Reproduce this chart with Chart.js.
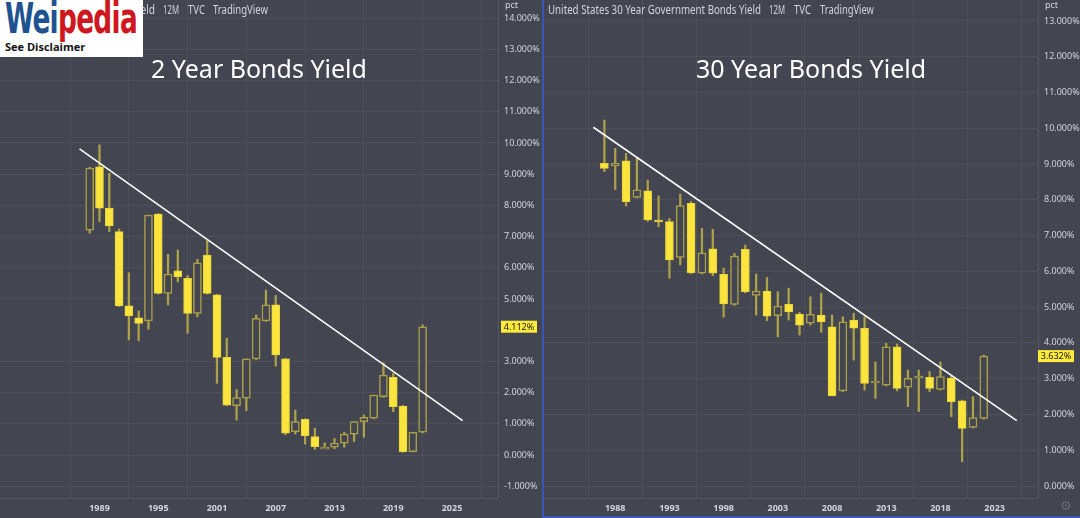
<!DOCTYPE html>
<html><head><meta charset="utf-8">
<script src="https://cdn.jsdelivr.net/npm/chart.js@4.4.1/dist/chart.umd.min.js"></script>
<style>
html,body{margin:0;padding:0;background:#434651;width:1080px;height:518px;overflow:hidden;}
#wrap{position:relative;width:1080px;height:518px;background:#434651;}
canvas{position:absolute;top:0;}
#c1{left:0;}
#c2{left:544px;}
.hdr{position:absolute;top:1px;font-family:'Noto Sans',sans-serif;font-size:12.5px;color:#d1d4dc;white-space:nowrap;transform-origin:0 0;}
.ttl{position:absolute;top:51px;font-family:'Noto Sans',sans-serif;font-size:25px;color:#ffffff;white-space:nowrap;transform:translateX(-50%);}
#bl{position:absolute;left:542px;top:0;width:2px;height:518px;background:#3657b8;}
#bb{position:absolute;left:542px;top:516px;width:538px;height:2px;background:#3657b8;}
#logo{position:absolute;left:0;top:0;width:143px;height:57px;background:#fff;overflow:hidden;}
#lw{position:absolute;left:5px;top:-3px;font-family:'DejaVu Sans Condensed','DejaVu Sans',sans-serif;font-weight:bold;font-size:42px;line-height:44px;transform-origin:0 0;white-space:nowrap;letter-spacing:-1px;}
#ld{position:absolute;left:5px;top:39px;font-family:'Open Sans',sans-serif;font-weight:bold;font-size:11px;color:#111;}
#gear{position:absolute;left:1060px;top:498px;font-size:13px;color:#6a6d78;font-family:'DejaVu Sans';}
</style></head>
<body><div id="wrap">
<canvas id="c1" width="542" height="518"></canvas>
<canvas id="c2" width="536" height="518"></canvas>
<div class="hdr" data-l="-2" data-w="157">US Government Bonds 2 YR Yield</div>
<div class="hdr" data-l="163" data-w="16">12M</div>
<div class="hdr" data-l="188" data-w="17">TVC</div>
<div class="hdr" data-l="213" data-w="55">TradingView</div>
<div class="hdr" data-l="548" data-w="213">United States 30 Year Government Bonds Yield</div>
<div class="hdr" data-l="769" data-w="16">12M</div>
<div class="hdr" data-l="794" data-w="17">TVC</div>
<div class="hdr" data-l="820" data-w="54">TradingView</div>
<div class="ttl" style="left:259px">2 Year Bonds Yield</div>
<div class="ttl" style="left:811px">30 Year Bonds Yield</div>
<div id="bl"></div><div id="bb"></div>
<div id="gear">⚙</div>
<div id="logo"><div id="lw"><span style="color:#1f5291">Wei</span><span style="color:#cf1720">pedia</span></div><div id="ld">See Disclaimer</div></div>
</div>
<script>
// ---- 2 Year (left) ----
const leftYears  = [1988,1989,1990,1991,1992,1993,1994,1995,1996,1997,1998,1999,2000,2001,2002,2003,2004,2005,2006,2007,2008,2009,2010,2011,2012,2013,2014,2015,2016,2017,2018,2019,2020,2021,2022];
const leftOpen   = [7.21,9.24,7.91,7.16,4.78,4.40,4.30,7.72,5.18,5.90,5.66,4.54,6.41,5.13,3.13,1.58,1.82,3.08,4.30,4.81,3.08,0.75,1.14,0.59,0.25,0.25,0.38,0.67,1.07,1.18,1.87,2.49,1.57,0.11,0.73];
const leftHigh   = [9.22,9.94,9.03,7.24,5.84,4.62,7.69,7.74,6.43,6.57,5.75,6.27,6.87,5.15,3.74,2.10,3.08,4.49,5.29,5.11,3.10,1.44,1.16,0.86,0.39,0.53,0.73,1.07,1.28,1.92,2.96,2.62,1.59,0.73,4.17];
const leftLow    = [7.11,7.48,7.16,4.76,3.69,3.66,4.03,5.16,4.81,5.55,3.90,4.43,5.16,2.30,1.58,1.12,1.42,3.06,4.28,2.85,0.65,0.67,0.35,0.18,0.22,0.20,0.25,0.43,0.57,1.16,1.85,1.39,0.09,0.10,0.71];
const leftClose  = [9.20,7.91,7.34,4.78,4.46,4.22,7.69,5.18,5.80,5.71,4.54,6.16,5.18,3.13,1.60,1.84,3.08,4.38,4.81,3.21,0.70,1.07,0.62,0.27,0.25,0.38,0.67,1.07,1.21,1.92,2.56,1.55,0.11,0.73,4.112];
const leftTickYears = [1989,1995,2001,2007,2013,2019,2025];
const leftPctTicks  = [-1,0,1,2,3,5,6,7,8,9,10,11,12,13,14];
const leftTrendX = [1986.96,2026.09];
const leftTrendY = [9.81,1.10];

// ---- 30 Year (right) ----
const rightYears = [1987,1988,1989,1990,1991,1992,1993,1994,1995,1996,1997,1998,1999,2000,2001,2002,2003,2004,2005,2006,2007,2008,2009,2010,2011,2012,2013,2014,2015,2016,2017,2018,2019,2020,2021,2022];
const rightOpen  = [9.02,8.95,9.09,8.07,8.25,7.40,7.39,6.39,7.90,5.95,6.63,5.92,5.08,6.62,5.33,5.45,4.76,5.08,4.81,4.55,4.78,4.45,2.66,4.64,4.41,2.88,2.82,3.89,2.76,3.02,3.04,2.70,3.01,2.38,1.64,1.89];
const rightHigh  = [10.23,9.44,9.30,9.16,8.55,8.11,7.48,8.16,7.95,7.20,7.18,6.09,6.50,6.74,5.93,5.83,5.43,5.53,4.85,5.29,5.39,4.78,4.73,4.83,4.73,3.47,3.99,3.97,3.24,3.24,3.20,3.47,3.10,2.40,2.50,3.66];
const rightLow   = [8.79,8.29,7.83,8.05,7.40,7.25,5.81,6.18,5.94,5.93,5.88,4.72,5.05,5.40,4.78,4.62,4.17,4.64,4.22,4.50,4.30,2.52,2.64,3.52,2.68,2.45,2.80,2.66,2.22,2.08,2.64,2.68,1.94,0.68,1.62,1.87];
const rightClose = [8.88,9.02,7.95,8.28,7.44,7.38,6.32,7.84,5.96,6.52,5.95,5.09,6.43,5.43,5.45,4.75,5.03,4.87,4.50,4.80,4.59,2.52,4.59,4.41,2.87,2.89,3.89,2.73,3.01,3.06,2.73,3.06,2.36,1.61,1.91,3.632];
const rightTickYears = [1988,1993,1998,2003,2008,2013,2018,2023];
const rightPctTicks  = [0,1,2,3,4,5,6,7,8,9,10,11,12,13];
const rightTrendX = [1985.98,2025.04];
const rightTrendY = [10.03,1.83];

const BG = '#434651';
const UP_BORDER = '#aa9f48';
const DOWN_FILL = '#fbe43c';
const WICK = '#aca24a';
const TXT = '#d1d4dc';
const FONT = "'Noto Sans', sans-serif";

function buildDatasets(years, o, h, l, c, tx, ty) {
  const wicks = years.map((y,i)=>({x:y, y:[l[i], h[i]]}));
  const down = [], up = [];
  years.forEach((y,i)=>{
    if (c[i] < o[i]) down.push({x:y, y:[c[i], o[i]]});
    else up.push({x:y, y:[o[i], c[i]]});
  });
  return [
    {type:'bar', data:wicks, backgroundColor:WICK, barThickness:1.6, grouped:false, order:3},
    {type:'bar', data:down, backgroundColor:DOWN_FILL, borderColor:'#e9d43a', borderWidth:1, borderSkipped:false, barThickness:8, minBarLength:2, grouped:false, order:2},
    {type:'bar', data:up, backgroundColor:BG, borderColor:UP_BORDER, borderWidth:1.5, borderSkipped:false, barThickness:8, minBarLength:2, grouped:false, order:1},
    {type:'line', data:tx.map((x,i)=>({x:x, y:ty[i]})), borderColor:'#ffffff', borderWidth:1.6, pointRadius:0, order:0}
  ];
}

const priceTag = {
  id:'priceTag',
  afterDraw(chart, args, opts) {
    const ctx = chart.ctx, ys = chart.scales.y;
    const yp = ys.getPixelForValue(opts.value);
    ctx.save();
    ctx.fillStyle = '#ffe93a';
    ctx.fillRect(ys.left + opts.dx, yp - 6, 36, 12);
    ctx.fillStyle = '#131722';
    ctx.font = "9px " + FONT;
    ctx.textBaseline = 'middle';
    ctx.textAlign = 'center';
    ctx.fillText(opts.value.toFixed(3) + '%', ys.left + opts.dx + 18, yp + 0.5);
    ctx.fillStyle = TXT;
    ctx.textAlign = 'left';
    ctx.textBaseline = 'top';
    ctx.font = "9px " + FONT;
    ctx.fillText('pct', ys.left + 7, 1);
    ctx.restore();
  }
};

function zeroPad(s) { s.paddingTop = 0; s.paddingBottom = 0; s.paddingLeft = 0; s.paddingRight = 0; }

function makeChart(id, years, o, h, l, c, tx, ty, xTicks, pctTicks, xmin, xmax, ymin, ymax, axisW, tagDx) {
  return new Chart(document.getElementById(id), {
    type:'bar',
    data:{datasets:buildDatasets(years,o,h,l,c,tx,ty)},
    options:{
      responsive:false, animation:false,
      layout:{padding:0},
      plugins:{legend:{display:false}, tooltip:{enabled:false}, priceTag:{value:c[c.length-1], dx:tagDx}},
      scales:{
        x:{type:'linear', min:xmin, max:xmax, offset:false,
           afterBuildTicks:s=>{s.ticks = xTicks.map(v=>({value:v}));},
           afterFit:s=>{s.height = 20; zeroPad(s);},
           ticks:{autoSkip:false, maxRotation:0, color:TXT, font:{family:FONT, size:9, weight:'bold'}, padding:5, callback:v=>String(v)},
           grid:{color:'rgba(255,255,255,0.055)', drawTicks:false},
           border:{color:'#545763', width:1}},
        y:{type:'linear', position:'right', min:ymin, max:ymax,
           afterBuildTicks:s=>{s.ticks = pctTicks.map(v=>({value:v}));},
           afterFit:s=>{s.width = axisW; zeroPad(s);},
           ticks:{autoSkip:false, color:TXT, font:{family:FONT, size:9}, padding:6, callback:v=>v.toFixed(3)+'%'},
           grid:{color:'rgba(255,255,255,0.055)', drawTicks:false},
           border:{color:'#545763', width:1}}
      }
    },
    plugins:[priceTag]
  });
}

makeChart('c1', leftYears, leftOpen, leftHigh, leftLow, leftClose, leftTrendX, leftTrendY,
  leftTickYears, leftPctTicks, 1978.84, 2029.70, -1.378, 14.583, 44, 3);
makeChart('c2', rightYears, rightOpen, rightHigh, rightLow, rightClose, rightTrendX, rightTrendY,
  rightTickYears, rightPctTicks, 1981.43, 2027.0, -0.335, 13.587, 42, 0);

// place header segments and fit them to their measured widths in the reference
document.querySelectorAll('.hdr').forEach(el=>{
  el.style.left = el.dataset.l + 'px';
  const w = el.getBoundingClientRect().width;
  el.style.transform = 'scaleX(' + (parseFloat(el.dataset.w) / w) + ')';
});
// fit logo word to its box
const lw = document.getElementById('lw');
const w = lw.getBoundingClientRect().width;
lw.style.transform = 'scaleX(' + (132 / w) + ')';
</script>
</body></html>
